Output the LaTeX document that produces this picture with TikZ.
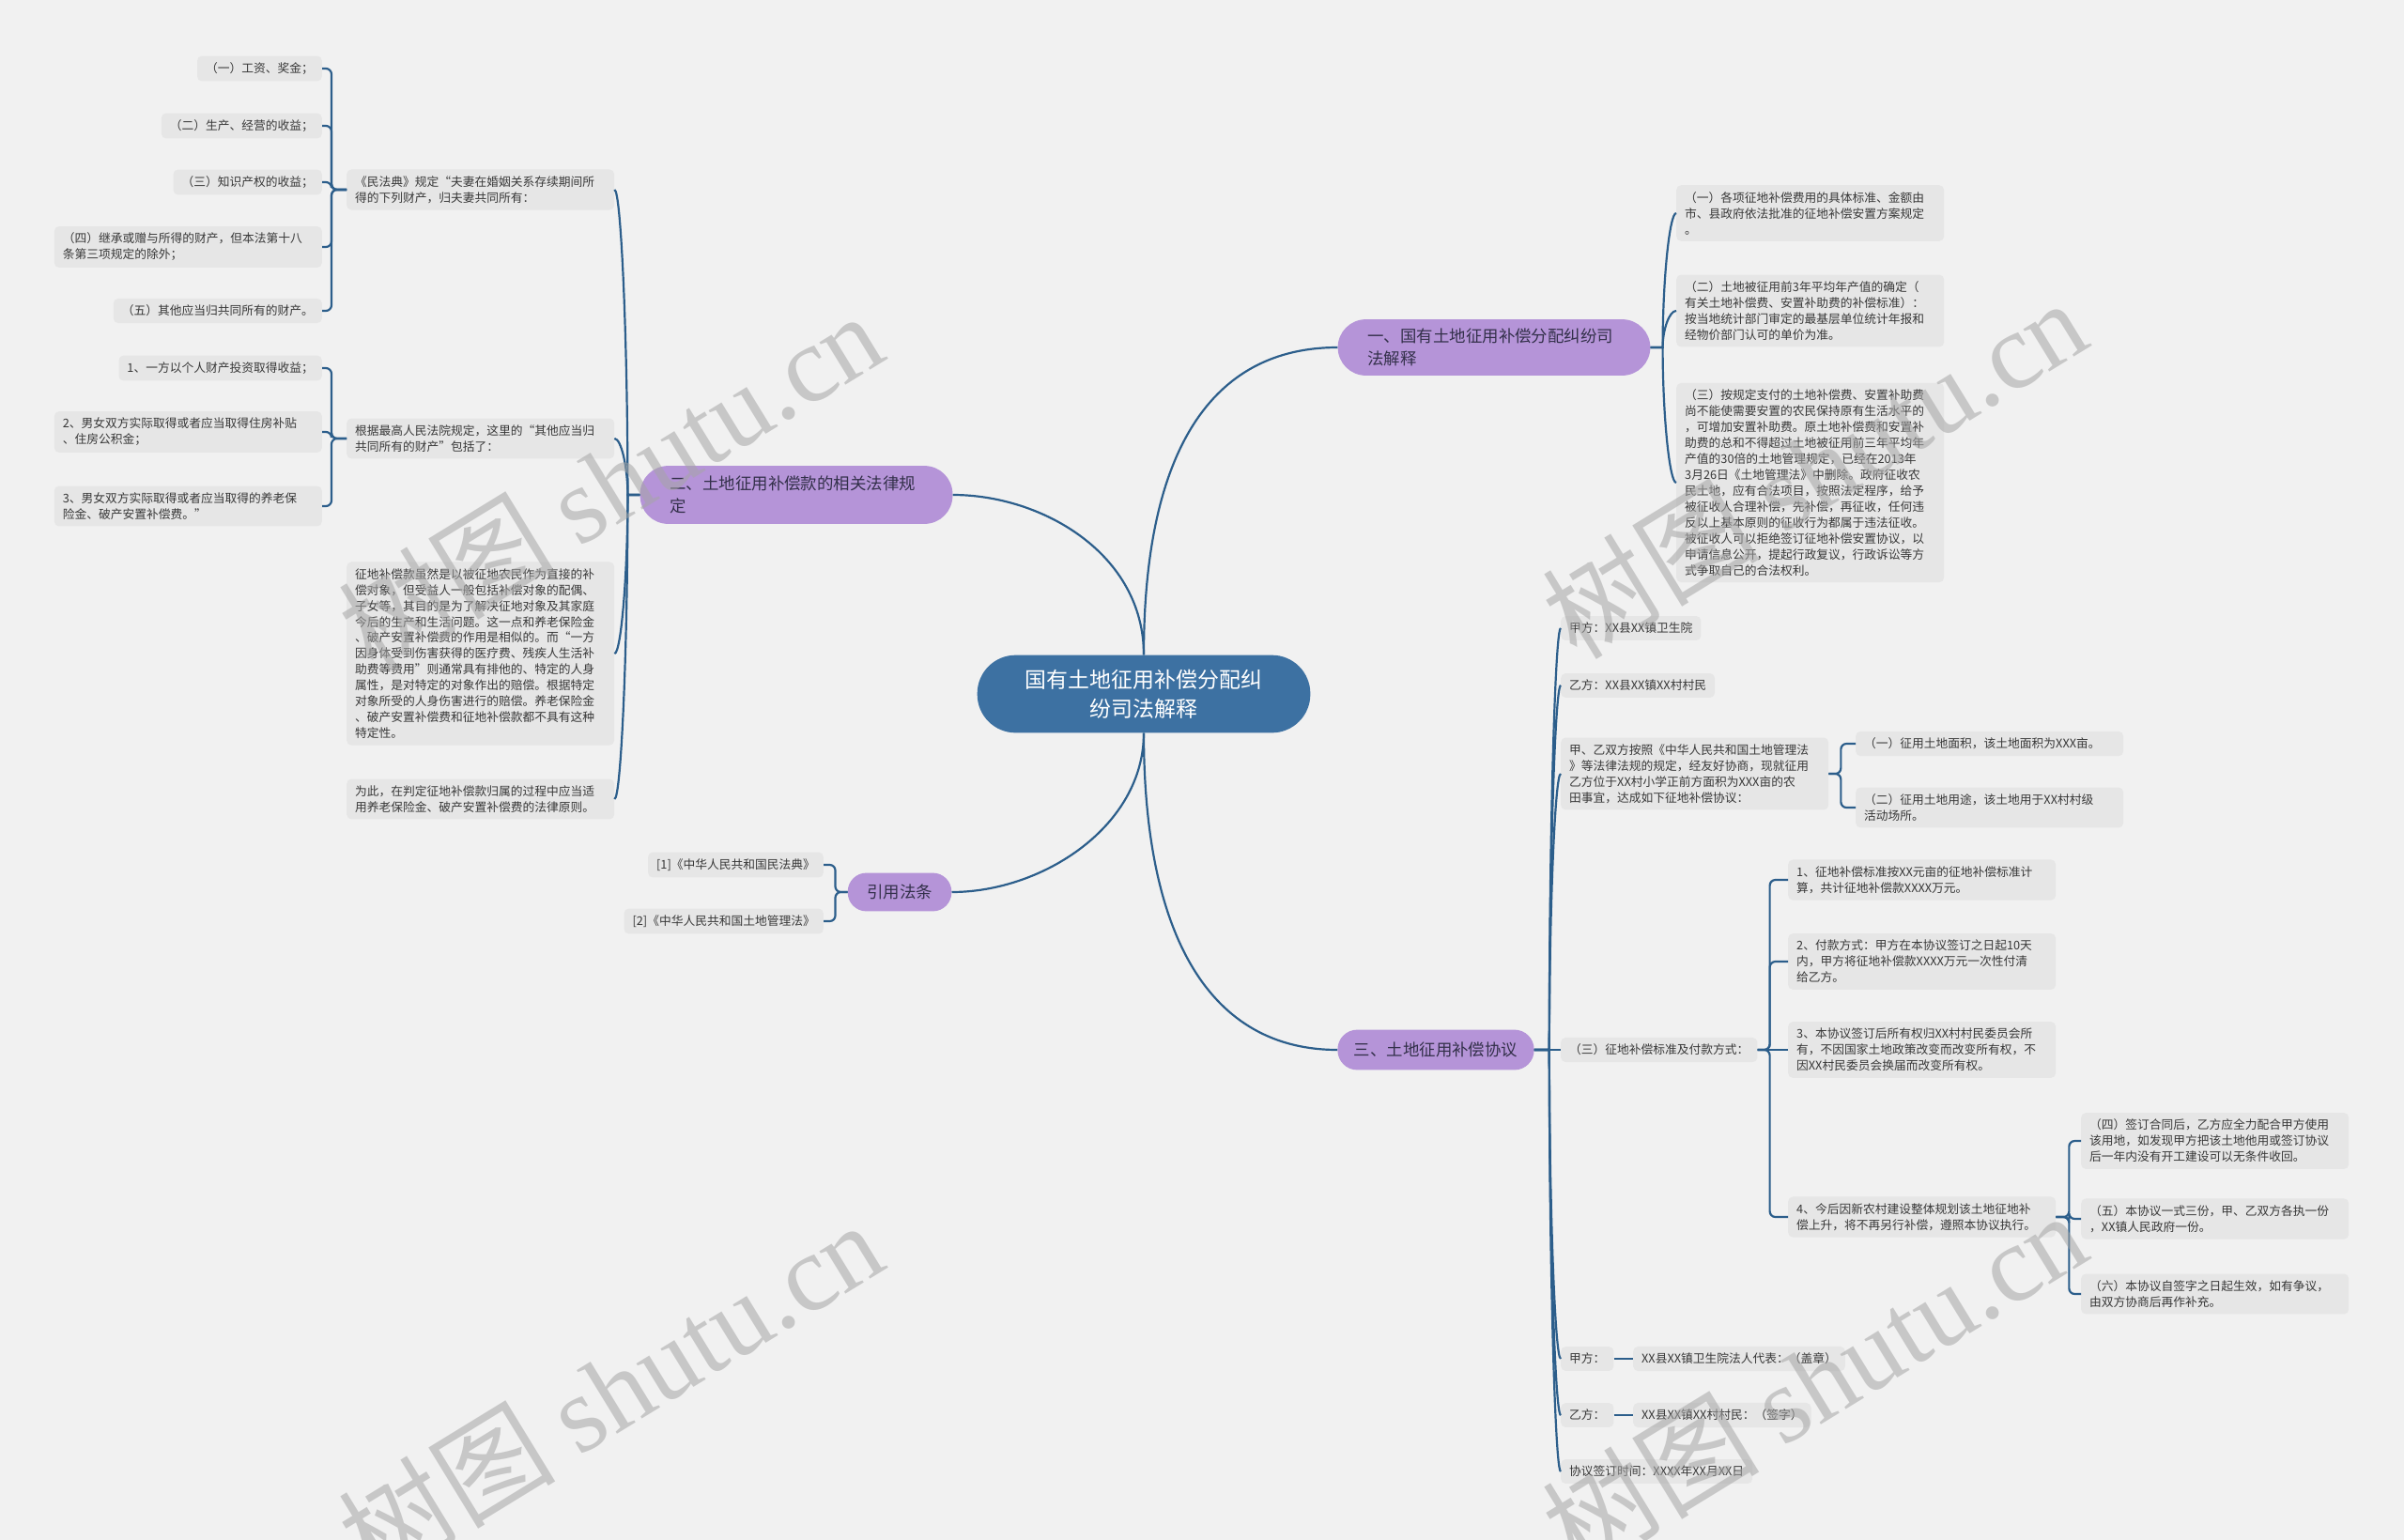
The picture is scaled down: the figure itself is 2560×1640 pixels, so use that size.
\documentclass[tikz,border=0pt]{standalone}
\usepackage{fontspec}
\setmainfont{Noto Sans CJK SC}
\newfontfamily\wmfont{Liberation Serif}
\usetikzlibrary{calc}
\definecolor{bgc}{HTML}{F1F1F1}
\definecolor{leafc}{HTML}{E6E6E6}
\definecolor{purp}{HTML}{B594D8}
\definecolor{cblue}{HTML}{3D71A2}
\definecolor{connc}{HTML}{2C5E8B}
\definecolor{txt}{HTML}{383838}
\definecolor{btxt}{HTML}{33304A}
\newcommand\brL[3]{\draw[conn,rounded corners=6] (#1.west) -- ++(-#3,0) |- (#2.east);}
\newcommand\brR[3]{\draw[conn,rounded corners=6] (#1.east) -- ++(#3,0) |- (#2.west);}
\newcommand\crvR[3]{%
  \coordinate (tA) at ($(#1.east)+(#3,0)$);
  \coordinate (tB) at (tA |- #2.west);
  \draw[conn] (#1.east) -- (tA) .. controls ($(tA)!0.5!(tB)$) and ($(tB)!0.5!(#2.west)$) .. (#2.west);}
\newcommand\crvL[3]{%
  \coordinate (tA) at ($(#1.west)+(-#3,0)$);
  \coordinate (tB) at (tA |- #2.east);
  \draw[conn] (#1.west) -- (tA) .. controls ($(tA)!0.5!(tB)$) and ($(tB)!0.5!(#2.east)$) .. (#2.east);}
\begin{document}
\begin{tikzpicture}[x=1bp,y=-1bp,
  leaf/.style={fill=leafc, rounded corners=5, inner xsep=9, inner ysep=7, text=txt, font=\fontsize{12.8}{17}\selectfont, align=left},
  mleaf/.style={leaf, text width=268},
  branch/.style={fill=purp, text=btxt, font=\fontsize{17.5}{24}\selectfont, align=left, inner sep=0},
  conn/.style={draw=connc, line width=2.2},
  wm/.style={rotate=31.5, text=black!35, opacity=0.55, inner sep=0, font=\fontsize{116}{116}\selectfont}
]
\fill[bgc] (0,0) rectangle (2560,1640);
\useasboundingbox (0,0) rectangle (2560,1640);

% central and branches
\node[fill=cblue, text=white, rounded corners=41, minimum width=356, minimum height=83, align=center, inner sep=0, font=\fontsize{23}{31}\selectfont] (c) at (1218,739) {国有土地征用补偿分配纠\\纷司法解释};
\node[branch, rounded corners=30, minimum width=334, minimum height=60, text width=270] (b1) at (1591,370) {一、国有土地征用补偿分配纠纷司\\法解释};
\node[branch, rounded corners=30, minimum width=334, minimum height=62, text width=270] (b2) at (848,527) {二、土地征用补偿款的相关法律规\\定};
\node[branch, rounded corners=20, minimum width=111, minimum height=41] (ref) at (958,950) {引用法条};
\node[branch, rounded corners=21, minimum width=210, minimum height=43] (b3) at (1529,1118) {三、土地征用补偿协议};

% left side
\node[leaf, anchor=east] (l1) at (343,73) {（一）工资、奖金；};
\node[leaf, anchor=east] (l2) at (343,134) {（二）生产、经营的收益；};
\node[leaf, anchor=east] (l3) at (343,194) {（三）知识产权的收益；};
\node[mleaf, anchor=east] (l4) at (343,263) {（四）继承或赠与所得的财产，但本法第十八\\条第三项规定的除外；};
\node[leaf, anchor=east] (l5) at (343,331) {（五）其他应当归共同所有的财产。};
\node[mleaf, anchor=west] (p1) at (369,202) {《民法典》规定“夫妻在婚姻关系存续期间所\\得的下列财产，归夫妻共同所有：};
\node[leaf, anchor=east] (l6) at (343,392) {1、一方以个人财产投资取得收益；};
\node[mleaf, anchor=east] (l7) at (343,460) {2、男女双方实际取得或者应当取得住房补贴\\、住房公积金；};
\node[mleaf, anchor=east] (l8) at (343,539) {3、男女双方实际取得或者应当取得的养老保\\险金、破产安置补偿费。”};
\node[mleaf, anchor=west] (p2) at (369,467) {根据最高人民法院规定，这里的“其他应当归\\共同所有的财产”包括了：};
\node[mleaf, anchor=west] (p3) at (369,696) {征地补偿款虽然是以被征地农民作为直接的补\\偿对象，但受益人一般包括补偿对象的配偶、\\子女等，其目的是为了解决征地对象及其家庭\\今后的生产和生活问题。这一点和养老保险金\\、破产安置补偿费的作用是相似的。而“一方\\因身体受到伤害获得的医疗费、残疾人生活补\\助费等费用”则通常具有排他的、特定的人身\\属性，是对特定的对象作出的赔偿。根据特定\\对象所受的人身伤害进行的赔偿。养老保险金\\、破产安置补偿费和征地补偿款都不具有这种\\特定性。};
\node[mleaf, anchor=west] (p4) at (369,851) {为此，在判定征地补偿款归属的过程中应当适\\用养老保险金、破产安置补偿费的法律原则。};
\node[leaf, anchor=east] (c1) at (877,921) {[1]《中华人民共和国民法典》};
\node[leaf, anchor=east] (c2) at (877,981) {[2]《中华人民共和国土地管理法》};

% right side, branch 1
\node[mleaf, anchor=west] (r1) at (1785,227) {（一）各项征地补偿费用的具体标准、金额由\\市、县政府依法批准的征地补偿安置方案规定\\。};
\node[mleaf, anchor=west] (r2) at (1785,331) {（二）土地被征用前3年平均年产值的确定（\\有关土地补偿费、安置补助费的补偿标准）：\\按当地统计部门审定的最基层单位统计年报和\\经物价部门认可的单价为准。};
\node[mleaf, anchor=west] (r3) at (1785,514) {（三）按规定支付的土地补偿费、安置补助费\\尚不能使需要安置的农民保持原有生活水平的\\，可增加安置补助费。原土地补偿费和安置补\\助费的总和不得超过土地被征用前三年平均年\\产值的30倍的土地管理规定，已经在2013年\\3月26日《土地管理法》中删除。政府征收农\\民土地，应有合法项目，按照法定程序，给予\\被征收人合理补偿，先补偿，再征收，任何违\\反以上基本原则的征收行为都属于违法征收。\\被征收人可以拒绝签订征地补偿安置协议，以\\申请信息公开，提起行政复议，行政诉讼等方\\式争取自己的合法权利。};

% right side, branch 3
\node[leaf, anchor=west] (t1) at (1662,669) {甲方：XX县XX镇卫生院};
\node[leaf, anchor=west] (t2) at (1662,730) {乙方：XX县XX镇XX村村民};
\node[mleaf, anchor=west] (t3) at (1662,824) {甲、乙双方按照《中华人民共和国土地管理法\\》等法律法规的规定，经友好协商，现就征用\\乙方位于XX村小学正前方面积为XXX亩的农\\田事宜，达成如下征地补偿协议：};
\node[mleaf, anchor=west] (t3a) at (1976,792) {（一）征用土地面积，该土地面积为XXX亩。};
\node[mleaf, anchor=west] (t3b) at (1976,860) {（二）征用土地用途，该土地用于XX村村级\\活动场所。};
\node[leaf, anchor=west] (t4) at (1662,1118) {（三）征地补偿标准及付款方式：};
\node[mleaf, anchor=west] (t4a) at (1904,937) {1、征地补偿标准按XX元亩的征地补偿标准计\\算，共计征地补偿款XXXX万元。};
\node[mleaf, anchor=west] (t4b) at (1904,1024) {2、付款方式：甲方在本协议签订之日起10天\\内，甲方将征地补偿款XXXX万元一次性付清\\给乙方。};
\node[mleaf, anchor=west] (t4c) at (1904,1118) {3、本协议签订后所有权归XX村村民委员会所\\有，不因国家土地政策改变而改变所有权，不\\因XX村民委员会换届而改变所有权。};
\node[mleaf, anchor=west] (t4d) at (1904,1296) {4、今后因新农村建设整体规划该土地征地补\\偿上升，将不再另行补偿，遵照本协议执行。};
\node[mleaf, anchor=west] (t4d1) at (2216,1215) {（四）签订合同后，乙方应全力配合甲方使用\\该用地，如发现甲方把该土地他用或签订协议\\后一年内没有开工建设可以无条件收回。};
\node[mleaf, anchor=west] (t4d2) at (2216,1298) {（五）本协议一式三份，甲、乙双方各执一份\\，XX镇人民政府一份。};
\node[mleaf, anchor=west] (t4d3) at (2216,1378) {（六）本协议自签字之日起生效，如有争议，\\由双方协商后再作补充。};
\node[leaf, anchor=west] (t5) at (1662,1447) {甲方：};
\node[leaf, anchor=west] (t5a) at (1739,1447) {XX县XX镇卫生院法人代表：（盖章）};
\node[leaf, anchor=west] (t6) at (1662,1507) {乙方：};
\node[leaf, anchor=west] (t6a) at (1739,1507) {XX县XX镇XX村村民：（签字）};
\node[leaf, anchor=west] (t7) at (1662,1567) {协议签订时间：XXXX年XX月XX日};

% main connectors
\draw[conn] (c.north) .. controls (1218,480) and (1290,370) .. (b1.west);
\draw[conn] (c.north) .. controls (1218,590) and (1110,527) .. (b2.east);
\draw[conn] (c.south) .. controls (1218,880) and (1110,950) .. (ref.east);
\draw[conn] (c.south) .. controls (1218,1000) and (1290,1118) .. (b3.west);

% branch 2 children
\crvL{b2}{p1}{13}
\crvL{b2}{p2}{13}
\crvL{b2}{p3}{13}
\crvL{b2}{p4}{13}
\brL{p1}{l1}{16}
\brL{p1}{l2}{16}
\brL{p1}{l3}{16}
\brL{p1}{l4}{16}
\brL{p1}{l5}{16}
\brL{p2}{l6}{16}
\brL{p2}{l7}{16}
\brL{p2}{l8}{16}
\brL{ref}{c1}{13}
\brL{ref}{c2}{13}

% branch 1 children
\crvR{b1}{r1}{13}
\crvR{b1}{r2}{13}
\crvR{b1}{r3}{13}

% branch 3 children
\crvR{b3}{t1}{16}
\crvR{b3}{t2}{16}
\crvR{b3}{t3}{16}
\draw[conn] (b3.east) -- (t4.west);
\crvR{b3}{t5}{16}
\crvR{b3}{t6}{16}
\crvR{b3}{t7}{16}
\brR{t3}{t3a}{13}
\brR{t3}{t3b}{13}
\brR{t4}{t4a}{13}
\brR{t4}{t4b}{13}
\draw[conn] (t4.east) -- (t4c.west);
\brR{t4}{t4d}{13}
\brR{t4d}{t4d1}{14}
\brR{t4d}{t4d2}{14}
\brR{t4d}{t4d3}{14}
\draw[conn] (t5.east) -- (t5a.west);
\draw[conn] (t6.east) -- (t6a.west);

% watermarks
\node[wm] (w1) at (650,512) {树图 {\wmfont shutu.cn}};
\node[wm] (w2) at (1932,498) {树图 {\wmfont shutu.cn}};
\node[wm] (w3) at (650,1480) {树图 {\wmfont shutu.cn}};
\node[wm] (w4) at (1932,1470) {树图 {\wmfont shutu.cn}};
\end{tikzpicture}
\end{document}
